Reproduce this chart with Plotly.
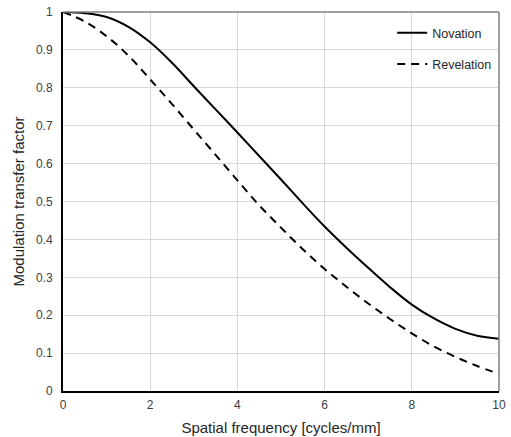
import plotly.graph_objects as go

# Spatial frequency samples (cycles/mm)
freq = [0, 0.5, 1, 1.5, 2, 2.5, 3, 3.5, 4, 4.5, 5, 5.5, 6, 6.5, 7, 7.5, 8, 8.5, 9, 9.5, 10]

# Modulation transfer factor for each detector
novation = [1.0, 0.997, 0.987, 0.961, 0.920, 0.866, 0.804, 0.743, 0.682, 0.620, 0.558,
            0.495, 0.434, 0.378, 0.325, 0.274, 0.228, 0.192, 0.164, 0.146, 0.138]
revelation = [1.0, 0.975, 0.936, 0.885, 0.822, 0.757, 0.690, 0.623, 0.556, 0.490, 0.431,
              0.374, 0.322, 0.275, 0.231, 0.190, 0.152, 0.118, 0.090, 0.066, 0.045]

x_ticks = [0, 2, 4, 6, 8, 10]
y_ticks = [0, 0.1, 0.2, 0.3, 0.4, 0.5, 0.6, 0.7, 0.8, 0.9, 1]

font_family = "Liberation Sans, Arial, sans-serif"

fig = go.Figure()
fig.add_trace(go.Scatter(
    x=freq, y=novation, mode="lines", name="Novation",
    line=dict(color="black", width=2, shape="spline"),
    legendgroup="a",
))
fig.add_trace(go.Scatter(
    x=freq, y=revelation, mode="lines", name="Revelation",
    line=dict(color="black", width=2, dash="8px,6px", shape="spline"),
    legendgroup="b",
))

fig.update_layout(
    width=511, height=437,
    margin=dict(l=63, r=12, t=12, b=46),
    paper_bgcolor="white", plot_bgcolor="white",
    font=dict(family=font_family, color="#262626"),
    legend=dict(
        x=0.755, y=0.984, xanchor="left", yanchor="top",
        bgcolor="rgba(0,0,0,0)", font=dict(size=12.5, color="#262626"),
        traceorder="grouped", tracegroupgap=12,
    ),
    xaxis=dict(
        range=[0, 10], tickvals=x_ticks, ticks="",
        showgrid=True, gridcolor="#d9d9d9", gridwidth=1,
        showline=True, linecolor="black", linewidth=2,
        zeroline=False, tickfont=dict(size=12, color="#404040"),
        ticklabelstandoff=2, automargin=False,
        title=dict(text="Spatial frequency [cycles/mm]", font=dict(size=15, color="#262626"), standoff=11),
    ),
    yaxis=dict(
        range=[0, 1], tickvals=y_ticks, ticks="",
        showgrid=True, gridcolor="#d9d9d9", gridwidth=1,
        showline=True, linecolor="black", linewidth=2,
        zeroline=False, tickfont=dict(size=12, color="#404040"),
        ticklabelstandoff=6, automargin=False,
        title=dict(text="Modulation transfer factor", font=dict(size=15, color="#262626"), standoff=8),
    ),
    shapes=[
        # top and right edges of the plotting frame
        dict(type="line", xref="paper", yref="paper", x0=0, y0=1, x1=1, y1=1,
             line=dict(color="#7f7f7f", width=1.5)),
        dict(type="line", xref="paper", yref="paper", x0=1, y0=0, x1=1, y1=1,
             line=dict(color="#7f7f7f", width=1.5)),
    ],
)

fig.write_html("out.html")
